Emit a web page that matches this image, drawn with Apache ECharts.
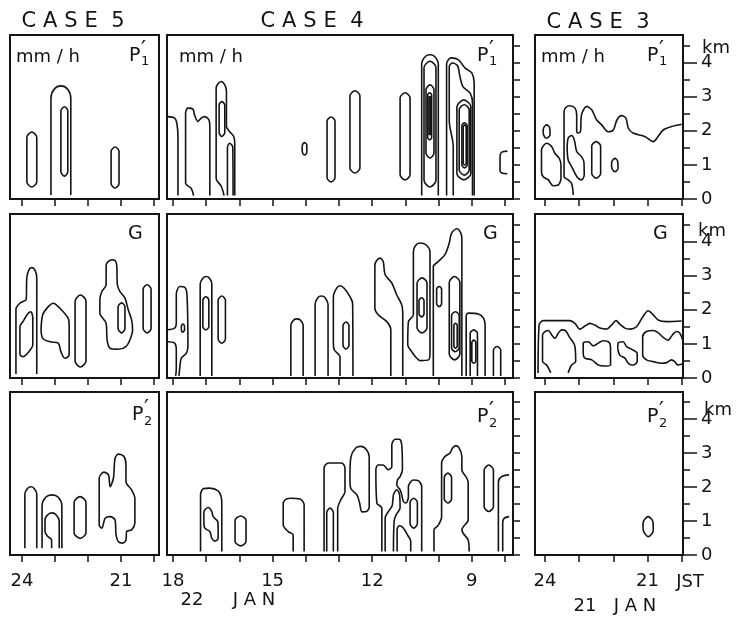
<!DOCTYPE html>
<html><head><meta charset="utf-8">
<script src="https://cdn.jsdelivr.net/npm/echarts/dist/echarts.min.js"></script>
<style>html,body{margin:0;padding:0;background:#fff}#c{width:736px;height:620px}</style>
</head><body><div id="c"></div>
<script>
// ---- tick values / labels ----
const ticksC5 = [20, 21, 22, 23, 24];
const labelsC5 = [21, 24];
const ticksC4 = [8, 9, 10, 11, 12, 13, 14, 15, 16, 17, 18];
const labelsC4 = [9, 12, 15, 18];
const ticksC3 = [20, 21, 22, 23, 24];
const labelsC3 = [21, 24];
const kmTicks = [0, 0.5, 1, 1.5, 2, 2.5, 3, 3.5, 4, 4.5];
const kmLabels = [0, 1, 2, 3, 4];

// ---- contour lines [hour (JST), height km] ----
// Row 1: P1' rain rate
const c5r1 = [
 [[23.85,1.15],[23.85,1.81],[23.7,1.96],[23.55,1.81],[23.55,0.5],[23.7,0.35],[23.85,0.5],[23.85,1.15]],
 [[23.12,0.12],[23.12,2.95],[23.02,3.22],[22.82,3.31],[22.62,3.22],[22.52,2.95],[22.52,0.12]],
 [[22.82,1.7],[22.82,2.58],[22.71,2.7],[22.61,2.58],[22.61,0.8],[22.71,0.67],[22.82,0.8],[22.82,1.7]],
 [[21.3,0.9],[21.3,1.4],[21.18,1.52],[21.06,1.4],[21.06,0.45],[21.18,0.32],[21.3,0.45],[21.3,0.9]]
];
const c4r1 = [
 [[18.16,2.41],[17.95,2.37],[17.88,2.2],[17.85,1.8],[17.85,0.1]],
 [[17.38,0.1],[17.45,0.31],[17.62,0.46],[17.62,2.51],[17.55,2.66],[17.4,2.63],[17.35,2.46],[17.25,2.27],[17.15,2.37],[17.05,2.41],[16.92,2.32],[16.89,2.1],[16.89,0.1]],
 [[16.46,0.1],[16.55,0.38],[16.7,0.6],[16.7,3.25],[16.55,3.44],[16.44,3.34],[16.39,3.15],[16.39,2.12],[16.29,1.97],[16.17,1.83],[16.14,1.6],[16.14,0.1]],
 [[16.61,2.35],[16.61,2.75],[16.53,2.85],[16.44,2.75],[16.44,1.95],[16.53,1.83],[16.61,1.95],[16.61,2.35]],
 [[16.36,0.1],[16.36,1.5],[16.29,1.63],[16.2,1.52],[16.19,0.1]],
 [[14.11,1.47],[14.1,1.58],[14.04,1.65],[13.97,1.58],[13.97,1.36],[14.04,1.29],[14.1,1.36],[14.11,1.47]],
 [[13.36,1.45],[13.36,2.28],[13.24,2.4],[13.12,2.28],[13.12,0.62],[13.24,0.5],[13.36,0.62],[13.36,1.45]],
 [[12.67,2.0],[12.67,3.02],[12.52,3.17],[12.37,3.02],[12.37,0.91],[12.52,0.76],[12.67,0.91],[12.67,2.0]],
 [[11.16,1.8],[11.16,2.96],[11.01,3.11],[10.86,2.96],[10.86,0.71],[11.01,0.56],[11.16,0.71],[11.16,1.8]],
 [[10.51,0.1],[10.51,3.95],[10.4,4.17],[10.26,4.22],[10.12,4.17],[10.01,3.95],[10.01,0.1]],
 [[10.44,2.2],[10.44,3.85],[10.26,4.03],[10.08,3.85],[10.08,0.55],[10.26,0.35],[10.44,0.55],[10.44,2.2]],
 [[10.38,2.3],[10.38,3.2],[10.26,3.34],[10.14,3.2],[10.14,1.35],[10.26,1.2],[10.38,1.35],[10.38,2.3]],
 [[10.33,2.4],[10.33,3.04],[10.27,3.11],[10.21,3.04],[10.21,1.8],[10.27,1.73],[10.33,1.8],[10.33,2.4]],
 [[10.29,2.4],[10.29,2.97],[10.265,3.0],[10.24,2.97],[10.24,1.91],[10.265,1.88],[10.29,1.91],[10.29,2.4]],
 [[9.76,0.1],[9.76,3.95],[9.63,4.13],[9.41,4.08],[9.2,3.83],[9.0,3.69],[8.93,3.4],[8.93,0.1]],
 [[9.56,0.1],[9.56,1.53],[9.68,2.3],[9.68,3.88],[9.58,3.98],[9.43,3.9],[9.36,3.59],[9.27,3.29],[9.05,3.1],[8.98,2.8],[8.98,0.1]],
 [[9.45,1.7],[9.45,2.7],[9.24,2.9],[9.03,2.7],[9.03,0.75],[9.24,0.56],[9.45,0.75],[9.45,1.7]],
 [[9.38,1.7],[9.38,2.62],[9.23,2.76],[9.08,2.62],[9.08,0.85],[9.23,0.7],[9.38,0.85],[9.38,1.7]],
 [[9.3,1.6],[9.3,2.15],[9.22,2.23],[9.14,2.15],[9.14,1.0],[9.22,0.91],[9.3,1.0],[9.3,1.6]],
 [[9.26,1.6],[9.26,2.1],[9.215,2.17],[9.17,2.1],[9.17,1.05],[9.215,1.0],[9.26,1.05],[9.26,1.6]],
 [[7.93,1.4],[8.1,1.37],[8.15,1.25],[8.15,0.85],[8.1,0.76],[7.93,0.74]]
];
const c3r1 = [
 [[24.05,1.98],[24.04,2.08],[23.95,2.17],[23.86,2.08],[23.85,1.88],[23.95,1.78],[24.04,1.88],[24.05,1.98]],
 [[24.1,1.1],[24.1,1.44],[23.95,1.63],[23.8,1.53],[23.71,1.34],[23.58,1.19],[23.53,1.0],[23.53,0.61],[23.61,0.41],[23.76,0.39],[23.9,0.56],[24.05,0.65],[24.1,0.8],[24.1,1.1]],
 [[23.17,0.12],[23.22,0.46],[23.32,0.56],[23.44,0.65],[23.44,2.55],[23.39,2.68],[23.27,2.73],[23.12,2.66],[23.07,2.46],[23.07,1.97],[23.03,1.93],[22.96,1.97],[22.93,2.46],[22.78,2.71],[22.63,2.61],[22.49,2.32],[22.34,2.17],[22.15,1.97],[22.0,2.02],[21.89,2.32],[21.76,2.44],[21.63,2.37],[21.56,2.07],[21.42,1.93],[21.08,1.83],[20.83,1.68],[20.69,1.83],[20.54,2.02],[20.3,2.12],[20.0,2.19]],
 [[23.35,1.49],[23.32,1.78],[23.22,1.86],[23.14,1.73],[23.07,1.39],[22.93,1.24],[22.86,1.09],[22.85,0.7],[22.93,0.56],[23.03,0.61],[23.12,0.75],[23.22,0.95],[23.32,1.14],[23.35,1.49]],
 [[22.63,1.15],[22.63,1.55],[22.5,1.68],[22.37,1.55],[22.37,0.75],[22.5,0.61],[22.63,0.75],[22.63,1.15]],
 [[22.05,1.0],[22.04,1.1],[21.95,1.19],[21.87,1.1],[21.86,0.9],[21.95,0.8],[22.04,0.9],[22.05,1.0]]
];
// Row 2: G
const c5r2 = [
 [[24.18,0.12],[24.18,2.02],[24.05,2.2],[23.87,2.3],[23.85,2.95],[23.78,3.18],[23.7,3.23],[23.6,3.15],[23.55,2.93],[23.55,0.12]],
 [[24.06,1.1],[24.06,0.7],[23.97,0.62],[23.85,0.7],[23.67,0.97],[23.67,1.76],[23.73,1.94],[23.82,1.88],[23.97,1.65],[24.06,1.5],[24.06,1.1]],
 [[23.42,1.41],[23.37,1.85],[23.2,2.09],[23.05,2.19],[22.85,2.04],[22.6,1.75],[22.57,1.55],[22.57,0.67],[22.7,0.58],[22.82,0.77],[22.9,1.02],[23.15,1.06],[23.37,1.16],[23.42,1.41]],
 [[22.39,1.4],[22.39,2.25],[22.23,2.43],[22.06,2.25],[22.06,0.5],[22.23,0.32],[22.39,0.5],[22.39,1.4]],
 [[21.64,2.1],[21.64,2.29],[21.58,2.53],[21.45,2.73],[21.45,3.31],[21.28,3.46],[21.18,3.44],[21.13,3.31],[21.11,2.73],[21.03,2.53],[20.88,2.34],[20.78,1.99],[20.68,1.7],[20.65,1.41],[20.73,1.11],[20.85,0.92],[21.08,0.84],[21.33,0.87],[21.42,1.11],[21.45,1.6],[21.64,1.9],[21.64,2.1]],
 [[21.09,1.8],[21.09,2.08],[20.98,2.2],[20.88,2.08],[20.88,1.45],[20.98,1.32],[21.09,1.45],[21.09,1.8]],
 [[20.33,2.0],[20.33,2.6],[20.21,2.73],[20.09,2.6],[20.09,1.45],[20.21,1.32],[20.33,1.45],[20.33,2.0]]
];
const c4r2 = [
 [[18.16,1.41],[17.95,1.46],[17.9,1.6],[17.9,2.45],[17.8,2.68],[17.65,2.66],[17.58,2.45],[17.55,0.92],[17.6,0.72],[17.75,0.58],[17.8,0.25],[17.82,0.06]],
 [[18.16,1.06],[17.95,1.02],[17.9,0.82],[17.9,0.25],[17.92,0.06]],
 [[17.75,1.46],[17.74,1.54],[17.7,1.58],[17.66,1.54],[17.65,1.42],[17.7,1.34],[17.74,1.38],[17.75,1.46]],
 [[17.18,0.06],[17.18,2.75],[17.1,2.92],[17.0,2.97],[16.9,2.92],[16.83,2.75],[16.83,0.06]],
 [[17.1,1.9],[17.1,2.28],[17.01,2.38],[16.92,2.28],[16.92,1.5],[17.01,1.41],[17.1,1.5],[17.1,1.9]],
 [[16.64,1.7],[16.64,2.28],[16.53,2.4],[16.42,2.28],[16.42,1.14],[16.53,1.02],[16.64,1.14],[16.64,1.7]],
 [[14.45,0.06],[14.45,1.55],[14.36,1.7],[14.27,1.73],[14.17,1.7],[14.08,1.55],[14.08,0.06]],
 [[13.72,0.06],[13.72,2.15],[13.64,2.35],[13.53,2.4],[13.42,2.35],[13.33,2.15],[13.33,0.06]],
 [[12.97,0.06],[12.97,0.62],[13.14,0.82],[13.17,1.02],[13.17,2.38],[13.07,2.63],[12.97,2.7],[12.82,2.6],[12.67,2.38],[12.59,2.19],[12.58,0.06]],
 [[12.88,1.25],[12.88,1.54],[12.79,1.64],[12.7,1.54],[12.7,0.95],[12.79,0.85],[12.88,0.95],[12.88,1.25]],
 [[11.44,0.06],[11.44,1.41],[11.56,1.65],[11.82,1.85],[11.92,2.04],[11.92,3.3],[11.87,3.43],[11.77,3.51],[11.67,3.41],[11.61,3.02],[11.41,2.78],[11.26,2.43],[11.11,2.14],[11.08,1.85],[11.08,0.06]],
 [[10.76,2.8],[10.76,3.69],[10.7,3.87],[10.56,3.95],[10.38,3.9],[10.26,3.69],[10.26,0.76],[10.3,0.53],[10.56,0.51],[10.66,0.58],[10.81,0.77],[10.93,0.97],[10.91,1.65],[10.76,1.85],[10.76,2.8]],
 [[10.65,2.1],[10.65,2.78],[10.5,2.93],[10.35,2.78],[10.35,1.47],[10.5,1.32],[10.65,1.47],[10.65,2.1]],
 [[10.59,2.1],[10.59,2.27],[10.51,2.35],[10.44,2.27],[10.44,1.87],[10.51,1.79],[10.59,1.87],[10.59,2.1]],
 [[10.06,2.4],[10.06,2.6],[9.98,2.68],[9.91,2.6],[9.91,2.17],[9.98,2.09],[10.06,2.17],[10.06,2.4]],
 [[10.16,0.06],[10.16,3.26],[10.01,3.41],[9.81,3.61],[9.68,3.95],[9.61,4.24],[9.45,4.37],[9.33,4.24],[9.3,4.05],[9.3,0.06]],
 [[9.68,1.8],[9.68,2.8],[9.52,2.97],[9.36,2.8],[9.36,0.7],[9.52,0.53],[9.68,0.7],[9.68,1.8]],
 [[9.61,1.4],[9.61,1.83],[9.5,1.94],[9.38,1.83],[9.38,0.88],[9.5,0.77],[9.61,0.88],[9.61,1.4]],
 [[9.54,1.25],[9.54,1.54],[9.49,1.6],[9.44,1.54],[9.44,0.93],[9.49,0.87],[9.54,0.93],[9.54,1.25]],
 [[9.17,0.06],[9.17,1.82],[9.1,1.9],[8.8,1.87],[8.65,1.75],[8.6,1.55],[8.6,0.06]],
 [[9.05,0.06],[9.05,1.3],[8.94,1.41],[8.83,1.3],[8.83,0.06]],
 [[9.0,0.8],[9.0,1.04],[8.94,1.11],[8.88,1.04],[8.88,0.5],[8.94,0.43],[9.0,0.5],[9.0,0.8]],
 [[8.35,0.06],[8.35,0.82],[8.24,0.92],[8.13,0.82],[8.13,0.06]]
];
const c3r2 = [
 [[24.2,0.15],[24.17,1.55],[24.05,1.68],[23.27,1.68],[23.12,1.6],[22.98,1.43],[22.83,1.52],[22.68,1.6],[22.54,1.55],[22.39,1.46],[22.2,1.43],[22.05,1.55],[21.92,1.68],[21.81,1.58],[21.66,1.46],[21.51,1.43],[21.32,1.5],[21.13,1.8],[20.98,1.97],[20.83,1.85],[20.69,1.7],[20.44,1.65],[20.0,1.67]],
 [[23.83,0.15],[23.95,0.38],[24.07,0.48],[24.07,1.26],[24.0,1.36],[23.9,1.39],[23.8,1.26],[23.71,1.16],[23.61,1.31],[23.51,1.41],[23.39,1.38],[23.29,1.21],[23.17,1.04],[23.12,0.92],[23.1,0.48],[23.22,0.38],[23.32,0.15]],
 [[22.88,0.87],[22.88,1.02],[22.73,1.06],[22.59,0.94],[22.44,1.02],[22.3,1.09],[22.12,1.04],[22.08,0.87],[22.08,0.38],[22.25,0.35],[22.44,0.38],[22.63,0.53],[22.83,0.58],[22.88,0.72],[22.88,0.87]],
 [[21.87,0.87],[21.86,1.02],[21.71,1.06],[21.61,0.92],[21.46,0.84],[21.3,0.72],[21.3,0.48],[21.42,0.38],[21.56,0.43],[21.66,0.58],[21.81,0.67],[21.87,0.87]],
 [[19.97,1.11],[20.05,1.31],[20.15,1.36],[20.27,1.26],[20.39,1.11],[20.54,1.19],[20.69,1.33],[20.83,1.39],[21.03,1.36],[21.14,1.21],[21.14,0.67],[21.03,0.53],[20.83,0.48],[20.59,0.43],[20.44,0.45],[20.3,0.53],[20.2,0.48],[20.11,0.38],[19.99,0.41]]
];
// Row 3: P2'
const c5r3 = [
 [[23.91,0.2],[23.91,1.8],[23.83,1.96],[23.73,2.01],[23.63,1.96],[23.55,1.8],[23.55,0.2]],
 [[23.39,0.2],[23.39,1.45],[23.28,1.7],[23.09,1.77],[22.9,1.7],[22.79,1.45],[22.79,0.2]],
 [[23.1,0.2],[23.1,0.44],[23.22,0.55],[23.3,0.69],[23.3,1.05],[23.2,1.2],[23.09,1.24],[22.96,1.18],[22.87,1.0],[22.87,0.2]],
 [[22.42,1.1],[22.42,1.55],[22.24,1.72],[22.06,1.55],[22.06,0.65],[22.24,0.49],[22.42,0.65],[22.42,1.1]],
 [[21.66,1.5],[21.66,2.26],[21.52,2.44],[21.38,2.36],[21.33,2.01],[21.23,2.26],[21.18,2.85],[21.08,2.97],[20.91,2.9],[20.85,2.65],[20.85,2.16],[20.68,1.92],[20.58,1.67],[20.58,0.94],[20.68,0.74],[20.83,0.69],[20.85,0.44],[20.95,0.35],[21.08,0.39],[21.15,0.59],[21.18,1.03],[21.33,1.13],[21.48,1.08],[21.58,0.79],[21.66,0.88],[21.66,1.5]]
];
const c4r3 = [
 [[17.17,0.1],[17.17,1.77],[17.09,1.95],[16.89,1.97],[16.64,1.89],[16.55,1.72],[16.53,1.5],[16.53,0.1]],
 [[17.07,1.1],[17.07,1.23],[17.04,1.33],[16.94,1.4],[16.83,1.28],[16.79,1.13],[16.65,0.98],[16.64,0.79],[16.64,0.49],[16.73,0.41],[16.83,0.49],[16.89,0.69],[17.04,0.79],[17.07,0.98],[17.07,1.1]],
 [[16.13,0.7],[16.13,1.02],[15.96,1.15],[15.8,1.02],[15.8,0.4],[15.96,0.27],[16.13,0.4],[16.13,0.7]],
 [[14.38,0.1],[14.38,0.59],[14.53,0.69],[14.68,0.88],[14.68,1.5],[14.63,1.62],[14.48,1.67],[14.17,1.65],[14.05,1.47],[14.05,0.1]],
 [[13.45,0.1],[13.45,2.56],[13.32,2.71],[12.92,2.71],[12.82,2.56],[12.82,1.87],[12.95,1.62],[13.04,1.38],[13.04,0.1]],
 [[13.37,0.1],[13.37,1.25],[13.27,1.38],[13.17,1.25],[13.17,0.1]],
 [[12.67,2.35],[12.64,2.89],[12.49,3.16],[12.34,3.2],[12.17,3.1],[12.09,2.89],[12.09,1.42],[12.17,1.28],[12.31,1.27],[12.38,1.53],[12.46,1.77],[12.64,1.95],[12.67,2.21],[12.67,2.35]],
 [[11.71,0.1],[11.71,1.38],[11.86,1.53],[11.89,2.51],[11.82,2.65],[11.67,2.65],[11.52,2.51],[11.41,2.6],[11.41,3.24],[11.31,3.41],[11.18,3.41],[11.11,3.24],[11.09,2.51],[11.16,2.31],[11.24,2.21],[11.26,2.06],[11.16,1.92],[11.11,1.77],[11.06,1.57],[10.98,1.53],[10.91,1.72],[10.91,2.01],[10.76,2.21],[10.61,2.19],[10.51,2.01],[10.51,0.1]],
 [[11.61,0.1],[11.61,1.09],[11.52,1.27],[11.4,1.45],[11.36,1.77],[11.26,1.92],[11.18,1.8],[11.16,1.39],[11.28,1.18],[11.34,1.0],[11.36,0.1]],
 [[11.25,0.1],[11.25,0.74],[11.19,0.86],[11.07,0.8],[10.92,0.56],[10.84,0.41],[10.84,0.1]],
 [[10.86,1.25],[10.86,1.55],[10.75,1.67],[10.64,1.55],[10.64,0.92],[10.75,0.79],[10.86,0.92],[10.86,1.25]],
 [[10.14,0.1],[10.14,0.74],[10.01,0.88],[9.91,1.13],[9.91,2.71],[9.81,2.9],[9.66,3.0],[9.58,3.15],[9.48,3.22],[9.38,3.15],[9.3,2.9],[9.3,2.51],[9.15,2.26],[9.11,2.12],[9.11,1.03],[9.26,0.83],[9.3,0.74],[9.26,0.64],[9.11,0.44],[9.08,0.1]],
 [[9.83,2.0],[9.83,2.29],[9.72,2.41],[9.61,2.29],[9.61,1.65],[9.72,1.53],[9.83,1.65],[9.83,2.0]],
 [[8.63,2.0],[8.63,2.5],[8.49,2.65],[8.35,2.5],[8.35,1.42],[8.49,1.28],[8.63,1.42],[8.63,2.0]],
 [[7.88,2.36],[8.1,2.31],[8.2,2.16],[8.2,0.1]],
 [[7.88,1.13],[8.03,1.08],[8.07,0.94],[8.07,0.1]]
];
const c3r3 = [
 [[21.13,0.85],[21.12,0.98],[20.98,1.13],[20.84,0.98],[20.83,0.72],[20.98,0.54],[21.12,0.72],[21.13,0.85]]
];

// ---- layout ----
const FONT = '"DejaVu Sans", "Liberation Sans", sans-serif';
const INK = '#141414';
const cols = [
  {left: 10,  width: 149, min: 19.85, max: 24.36, ticks: ticksC5, labels: labelsC5, rTicks: false},
  {left: 167, width: 346, min: 7.76,  max: 18.18, ticks: ticksC4, labels: labelsC4, rTicks: true},
  {left: 535, width: 148, min: 19.96, max: 24.29, ticks: ticksC3, labels: labelsC3, rTicks: true}
];
const rows = [{top: 35, height: 164}, {top: 214, height: 164}, {top: 392, height: 163}];
const panels = [c5r1, c4r1, c3r1, c5r2, c4r2, c3r2, c5r3, c4r3, c3r3];

const grid = [], xAxis = [], yAxis = [], series = [];
rows.forEach((r, ri) => cols.forEach((c, ci) => {
  const g = ri * 3 + ci;
  grid.push({left: c.left, top: r.top, width: c.width, height: r.height, show: true,
    borderColor: INK, borderWidth: 2, backgroundColor: 'transparent', containLabel: false});
  xAxis.push({gridIndex: g, type: 'value', min: c.min, max: c.max, inverse: true,
    axisLine: {show: false, onZero: false}, splitLine: {show: false},
    axisTick: {show: true, customValues: c.ticks, length: 7, inside: false, lineStyle: {color: INK, width: 1.5}},
    axisLabel: {show: ri === 2, customValues: c.labels, margin: 17, fontSize: 18, fontFamily: FONT, color: INK}});
  yAxis.push({gridIndex: g, type: 'value', min: 0, max: 4.8, position: 'right',
    axisLine: {show: false, onZero: false}, splitLine: {show: false},
    axisTick: {show: c.rTicks, customValues: kmTicks, length: 7, inside: false, lineStyle: {color: INK, width: 1.5}},
    axisLabel: {show: false}});
}));
// km scale with labels on the right of CASE 3
rows.forEach((r, ri) => {
  yAxis.push({gridIndex: ri * 3 + 2, type: 'value', min: 0, max: 4.8, position: 'right',
    axisLine: {show: false, onZero: false}, splitLine: {show: false},
    axisTick: {show: true, customValues: kmLabels, length: 14, inside: false, lineStyle: {color: INK, width: 1.5}},
    axisLabel: {show: true, customValues: kmLabels, margin: 18, fontSize: 18, fontFamily: FONT, color: INK}});
});
panels.forEach((arr, g) => arr.forEach(line => series.push({
  type: 'line', xAxisIndex: g, yAxisIndex: g, data: line, showSymbol: false, symbol: 'none',
  smooth: 0.3, silent: true, animation: false, z: 3,
  lineStyle: {color: INK, width: 1.6}
})));

function T(x, y, s, size, align) {
  return {type: 'text', x: x, y: y, silent: true, z: 10,
    style: {text: s, font: size + 'px ' + FONT, fill: INK, align: align || 'left', verticalAlign: 'middle'}};
}
const sp = '\u2004';
const title = n => 'C' + sp + 'A' + sp + 'S' + sp + 'E  ' + n;
const graphic = [
  T(73, 22, title('5'), 21, 'center'),
  T(312, 22, title('4'), 21, 'center'),
  T(598, 23, title('3'), 21, 'center'),
  T(16, 57, 'mm / h', 18), T(179, 57, 'mm / h', 18), T(541, 57, 'mm / h', 18),
  // P1'
  T(129, 56, 'P', 19), T(141, 50, '\u2032', 22), T(141, 62, '1', 13),
  T(477, 56, 'P', 19), T(489, 50, '\u2032', 22), T(489, 62, '1', 13),
  T(647, 56, 'P', 19), T(659, 50, '\u2032', 22), T(659, 62, '1', 13),
  // G
  T(128, 234, 'G', 19), T(483, 234, 'G', 19), T(653, 234, 'G', 19),
  // P2'
  T(132, 415, 'P', 19), T(144, 409, '\u2032', 22), T(144, 422, '2', 13),
  T(477, 417, 'P', 19), T(489, 411, '\u2032', 22), T(489, 424, '2', 13),
  T(647, 417, 'P', 19), T(659, 411, '\u2032', 22), T(659, 424, '2', 13),
  // km units
  T(702, 48, 'km', 18), T(698, 231, 'km', 18), T(704, 410, 'km', 18),
  // bottom annotations
  T(690, 582, 'JST', 18, 'center'),
  T(192, 600, '22', 18, 'center'), T(254, 600, 'J A N', 18, 'center'),
  T(585, 606, '21', 18, 'center'), T(635, 606, 'J A N', 18, 'center')
];

const chart = echarts.init(document.getElementById('c'), null, {renderer: 'canvas'});
chart.setOption({backgroundColor: '#fff', animation: false, grid, xAxis, yAxis, series, graphic});
</script></body></html>
